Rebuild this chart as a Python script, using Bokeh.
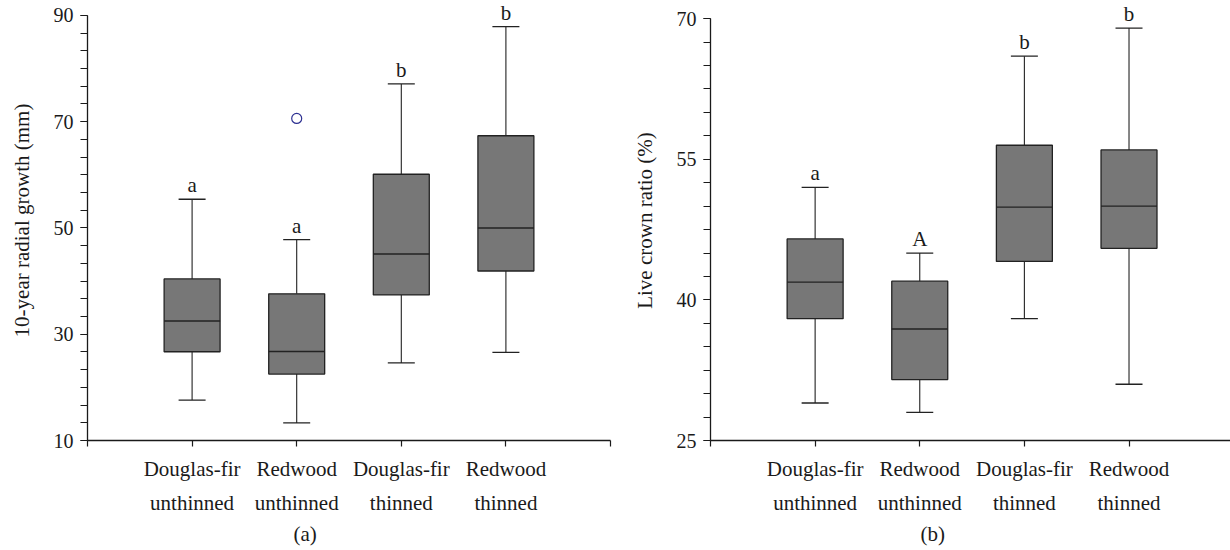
import numpy as np
from bokeh.plotting import figure
from bokeh.layouts import row
from bokeh.models import Range1d, FixedTicker, Title
from bokeh.core.properties import value
from bokeh.embed import file_html
from bokeh.resources import INLINE

# ---------------- data ----------------
categories = ["Douglas-fir\nunthinned", "Redwood\nunthinned", "Douglas-fir\nthinned", "Redwood\nthinned"]
positions = [1, 2, 3, 4]

# (a) 10-year radial growth (mm)
growth_lower = [17.6, 13.3, 24.6, 26.6]
growth_q1 = [26.7, 22.5, 37.4, 41.9]
growth_median = [32.5, 26.75, 45.1, 50.0]
growth_q3 = [40.4, 37.6, 60.1, 67.35]
growth_upper = [55.4, 47.8, 77.1, 87.9]
growth_letters = ["a", "a", "b", "b"]
growth_outlier_x = [2]
growth_outlier_y = [70.6]
growth_ticks = [10, 30, 50, 70, 90]

# (b) Live crown ratio (%)
crown_lower = [29.0, 28.0, 38.0, 31.0]
crown_q1 = [38.0, 31.5, 44.1, 45.5]
crown_median = [41.9, 36.9, 49.9, 50.0]
crown_q3 = [46.5, 42.0, 56.5, 56.0]
crown_upper = [52.0, 45.0, 66.0, 69.0]
crown_letters = ["a", "A", "b", "b"]
crown_ticks = [25, 40, 55, 70]

# ---------------- style ----------------
FONT = "Liberation Serif"
TEXT = "#1a1a1a"
FILL = "#777777"
EDGE = "#222222"
FS_X = "21px"
FS_Y = "20px"


def make_panel(width, height, mb_left, mb_right, mb_bottom, x_end, y_start, y_end,
               major, n_minor, lower, q1, med, q3, upper, letters, ylabel,
               tag, tag_offset, out_x=None, out_y=None):
    p = figure(width=width, height=height, output_backend="svg", toolbar_location=None,
               x_range=Range1d(0, x_end), y_range=Range1d(y_start, y_end),
               min_border_left=mb_left, min_border_right=mb_right,
               min_border_top=0, min_border_bottom=mb_bottom)
    p.outline_line_color = None
    p.xgrid.visible = False
    p.ygrid.visible = False
    p.background_fill_color = "white"
    p.border_fill_color = "white"

    # whiskers
    p.segment(x0=positions, y0=q3, x1=positions, y1=upper, line_color=EDGE, line_width=1.1)
    p.segment(x0=positions, y0=q1, x1=positions, y1=lower, line_color=EDGE, line_width=1.1)
    # caps
    p.scatter(x=positions, y=upper, marker="dash", size=27, line_color=EDGE, line_width=1.3)
    p.scatter(x=positions, y=lower, marker="dash", size=27, line_color=EDGE, line_width=1.3)
    # boxes
    p.vbar(x=positions, width=0.535, bottom=q1, top=q3, fill_color=FILL,
           line_color=EDGE, line_width=1.3)
    # medians
    p.scatter(x=positions, y=med, marker="dash", size=56, line_color=EDGE, line_width=1.4)
    # letters
    p.text(x=positions, y=upper, text=letters, text_align="center", text_baseline="alphabetic",
           y_offset=-14, text_font=value(FONT), text_font_size=FS_X, text_color=TEXT)
    if out_x is not None:
        p.scatter(x=out_x, y=out_y, marker="circle", size=10, fill_color=None,
                  line_color="#2e3192", line_width=1.2)

    # x axis
    xa = p.xaxis[0]
    xa.ticker = FixedTicker(ticks=[0, 1, 2, 3, 4, 5])
    overrides = {0: "", 5: ""}
    for pos, cat in zip(positions, categories):
        overrides[pos] = cat
    xa.major_label_overrides = overrides
    xa.bounds = (0, 5)
    xa.minor_tick_line_color = None
    xa.major_tick_in = 0
    xa.major_tick_out = 6
    xa.major_label_standoff = 10
    xa.major_label_text_line_height = 1.43
    xa.major_label_text_font_size = FS_X

    # y axis
    ya = p.yaxis[0]
    step = (major[1] - major[0]) / n_minor
    minor = list(np.arange(major[0], major[-1] + step / 2, step))
    ya.ticker = FixedTicker(ticks=major, minor_ticks=minor)
    ya.bounds = (major[0], major[-1])
    ya.major_tick_in = 0
    ya.major_tick_out = 7
    ya.minor_tick_in = 0
    ya.minor_tick_out = 7
    ya.major_label_standoff = 7
    ya.major_label_text_font_size = FS_Y
    ya.axis_label = ylabel
    ya.axis_label_standoff = 17
    ya.axis_label_text_font_style = "normal"
    ya.axis_label_text_font_size = FS_X

    for ax in (xa, ya):
        ax.axis_line_color = TEXT
        ax.axis_line_width = 1.3
        ax.major_tick_line_color = TEXT
        ax.major_tick_line_width = 1.2
        ax.minor_tick_line_width = 1.1
        ax.major_label_text_font = FONT
        ax.major_label_text_color = TEXT
        ax.axis_label_text_font = FONT
        ax.axis_label_text_color = TEXT
    ya.minor_tick_line_color = TEXT

    t = Title(text=tag, align="left", offset=tag_offset, text_font=FONT,
              text_font_size=FS_X, text_font_style="normal", text_color=TEXT, standoff=4)
    p.add_layout(t, "below")
    return p


p1 = make_panel(615, 550, 87, 5, 110, 5, 10, 92.8, growth_ticks, 6,
                growth_lower, growth_q1, growth_median, growth_q3, growth_upper,
                growth_letters, "10-year radial growth (mm)", "(a)", 206,
                growth_outlier_x, growth_outlier_y)
p2 = make_panel(615, 550, 95, 0, 107, 4.97, 25, 71.94, crown_ticks, 6,
                crown_lower, crown_q1, crown_median, crown_q3, crown_upper,
                crown_letters, "Live crown ratio (%)", "(b)", 210)

layout = row(p1, p2, spacing=0)
open("out.html", "w").write(file_html(layout, INLINE))
